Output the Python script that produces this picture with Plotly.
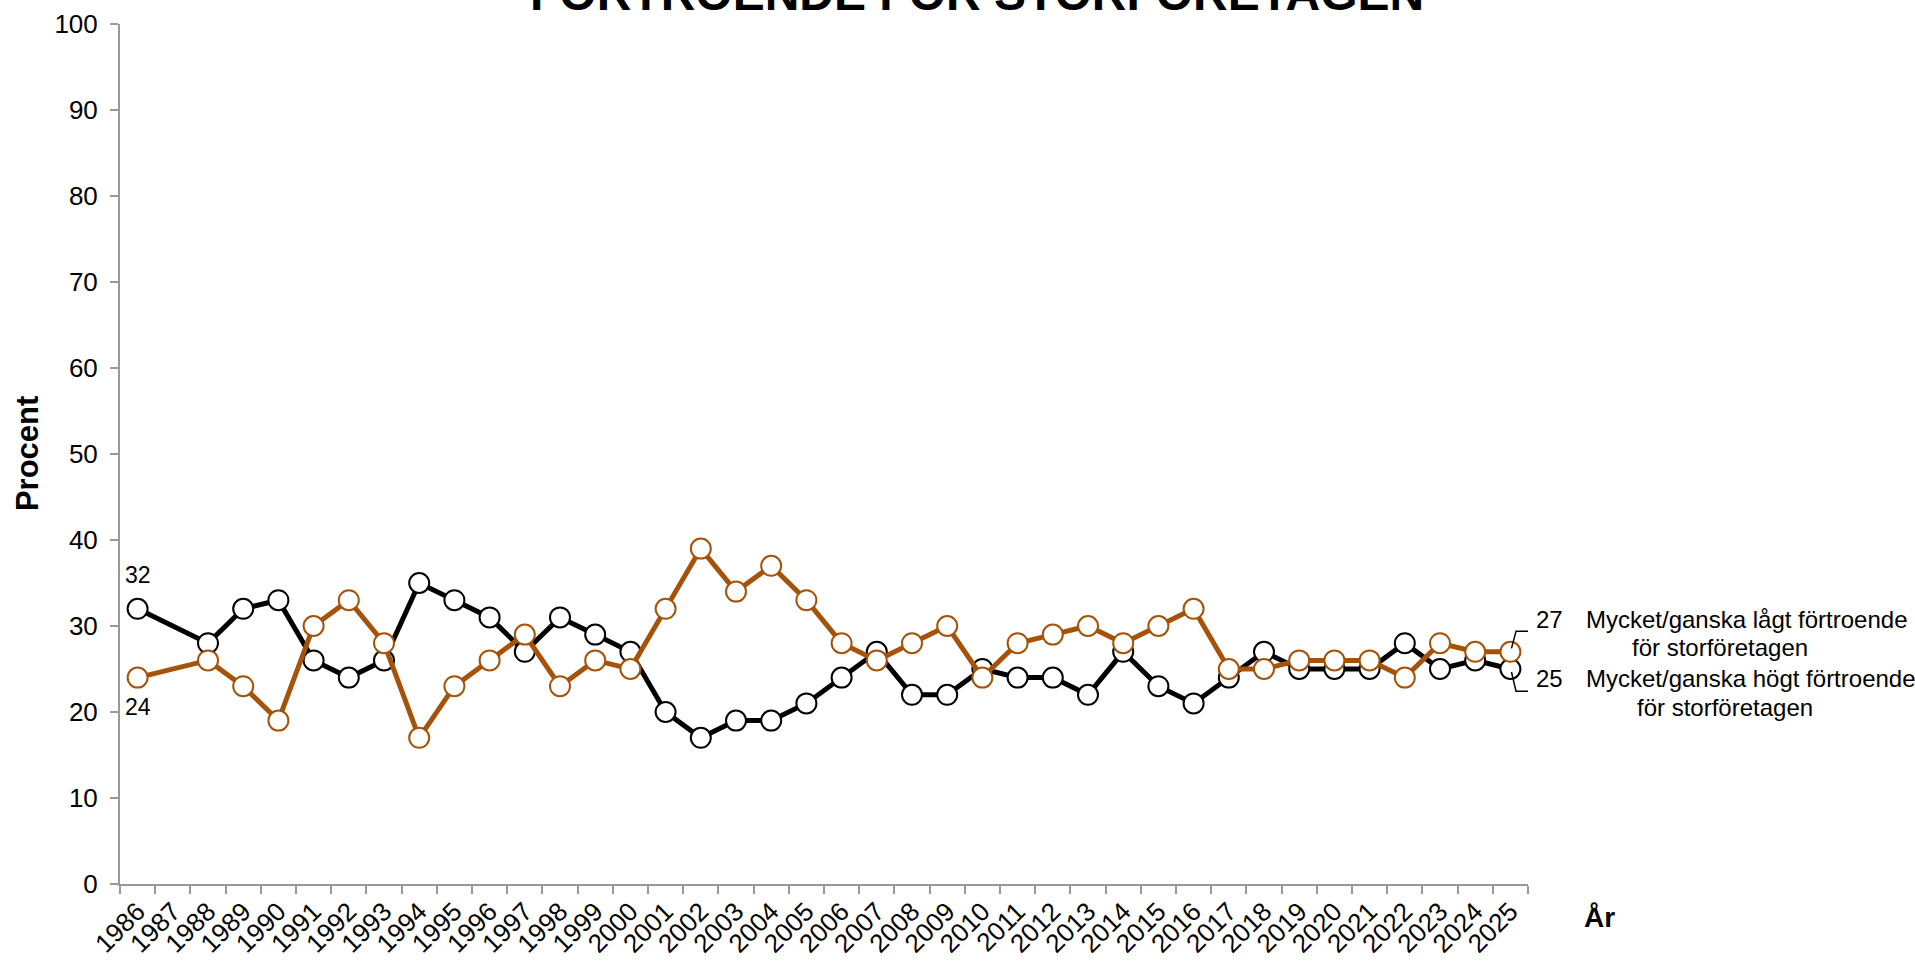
import plotly.graph_objects as go

years = [str(y) for y in range(1986, 2026)]
hogt = [32, None, 28, 32, 33, 26, 24, 26, 35, 33, 31, 27, 31, 29, 27, 20, 17, 19, 19, 21,
        24, 27, 22, 22, 25, 24, 24, 22, 27, 23, 21, 24, 27, 25, 25, 25, 28, 25, 26, 25]
lagt = [24, None, 26, 23, 19, 30, 33, 28, 17, 23, 26, 29, 23, 26, 25, 32, 39, 34, 37, 33,
        28, 26, 28, 30, 24, 28, 29, 30, 28, 30, 32, 25, 25, 26, 26, 26, 24, 28, 27, 27]

title = "FÖRTROENDE FÖR STORFÖRETAGEN"
label_lagt = "Mycket/ganska lågt förtroende"
label_hogt = "Mycket/ganska högt förtroende"
label_sub = "för storföretagen"

BLACK = "#000000"
ORANGE = "#A65208"
FONT = "Liberation Sans, Arial, sans-serif"

fig = go.Figure()
fig.add_trace(go.Scatter(
    x=years, y=hogt, mode="lines+markers", connectgaps=True,
    line=dict(color=BLACK, width=5),
    marker=dict(size=20, color="white", line=dict(color=BLACK, width=2)),
    showlegend=False, hoverinfo="x+y"))
fig.add_trace(go.Scatter(
    x=years, y=lagt, mode="lines+markers", connectgaps=True,
    line=dict(color=ORANGE, width=5),
    marker=dict(size=20, color="white", line=dict(color=ORANGE, width=2)),
    showlegend=False, hoverinfo="x+y"))

n = len(years)
last = n - 1
annots = []
annots.append(dict(text="<b>" + title + "</b>", xref="paper", yref="paper", x=0.6087, y=1,
                   xanchor="center", yanchor="bottom", yshift=2, showarrow=False,
                   font=dict(size=48, color="black", family=FONT)))
annots.append(dict(text="<b>Procent</b>", xref="paper", yref="paper", x=-0.066, y=0.5,
                   xanchor="center", yanchor="middle", textangle=-90, showarrow=False,
                   font=dict(size=31, color="black", family=FONT)))
annots.append(dict(text="<b>År</b>", xref="paper", yref="paper", x=1.0511, y=-0.0395,
                   xanchor="center", yanchor="middle", showarrow=False,
                   font=dict(size=28, color="black", family=FONT)))
annots.append(dict(text=str(hogt[0]), xref="x", yref="y", x=0, y=hogt[0] + 3.9,
                   xanchor="center", yanchor="middle", showarrow=False,
                   font=dict(size=23, color="black", family=FONT)))
annots.append(dict(text=str(lagt[0]), xref="x", yref="y", x=0, y=lagt[0] - 3.4,
                   xanchor="center", yanchor="middle", showarrow=False,
                   font=dict(size=23, color="black", family=FONT)))
rf = dict(size=24, color="black", family=FONT)
annots += [
    dict(text=str(lagt[-1]), xref="paper", yref="y", x=1.0156, y=30.8, xanchor="center",
         yanchor="middle", showarrow=False, font=rf),
    dict(text=label_lagt, xref="paper", yref="y", x=1.0398, y=30.8, xanchor="left",
         yanchor="middle", showarrow=False, font=rf),
    dict(text=label_sub, xref="paper", yref="y", x=1.1364, y=27.5, xanchor="center",
         yanchor="middle", showarrow=False, font=rf),
    dict(text=str(hogt[-1]), xref="paper", yref="y", x=1.0156, y=23.95, xanchor="center",
         yanchor="middle", showarrow=False, font=rf),
    dict(text=label_hogt, xref="paper", yref="y", x=1.0398, y=23.95, xanchor="left",
         yanchor="middle", showarrow=False, font=rf),
    dict(text=label_sub, xref="paper", yref="y", x=1.1399, y=20.55, xanchor="center",
         yanchor="middle", showarrow=False, font=rf),
]

shapes = [
    dict(type="path", xref="x", yref="y",
         path=f"M {last+0.03},{lagt[-1]+0.4} L {last+0.16},{lagt[-1]+2.4} L {last+0.5},{lagt[-1]+2.4}",
         line=dict(color="black", width=1.5)),
    dict(type="path", xref="x", yref="y",
         path=f"M {last+0.03},{hogt[-1]-0.35} L {last+0.16},{hogt[-1]-2.6} L {last+0.5},{hogt[-1]-2.6}",
         line=dict(color="black", width=1.5)),
]

fig.update_layout(
    width=1915, height=962,
    margin=dict(l=120, r=387, t=24, b=78),
    paper_bgcolor="white", plot_bgcolor="white",
    font=dict(family=FONT, color="black"),
    annotations=annots, shapes=shapes,
)
fig.update_xaxes(
    type="category", range=[-0.5, n - 0.5], tickangle=-45, tickson="boundaries",
    ticks="outside", ticklen=8, tickwidth=1.5, tickcolor="#999999", automargin=False,
    showline=True, linecolor="#999999", linewidth=2, showgrid=False, zeroline=False,
    tickfont=dict(size=26, color="black", family=FONT))
fig.update_yaxes(
    range=[0, 100], dtick=10, ticks="outside", ticklen=8, tickwidth=1.5, tickcolor="#999999",
    showline=True, linecolor="#999999", linewidth=2, showgrid=False, zeroline=False,
    ticklabelstandoff=7, automargin=False,
    tickfont=dict(size=26, color="black", family=FONT))

fig.write_html("out.html", config={"displayModeBar": False},
               post_script="document.body.style.margin='0';document.body.style.overflow='hidden';")
